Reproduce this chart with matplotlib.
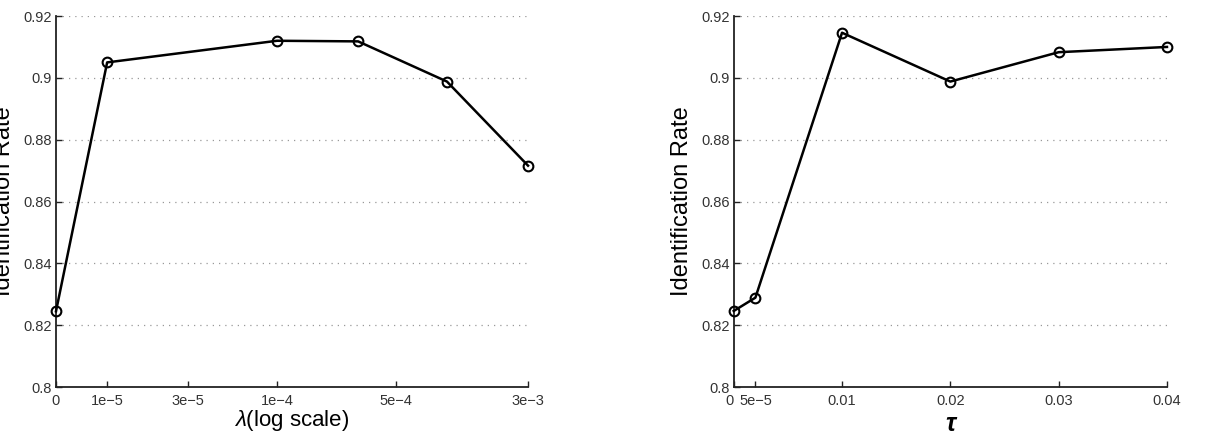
import matplotlib
matplotlib.use('Agg')
import matplotlib.pyplot as plt
import numpy as np

plt.rcParams['font.family'] = ['Liberation Sans', 'DejaVu Sans']
plt.rcParams['mathtext.fontset'] = 'custom'
plt.rcParams['mathtext.it'] = 'Liberation Sans:italic'

# left panel: lambda sweep (0 is drawn at 5e-6 on the log axis)
lam = [0, 1e-5, 1e-4, 3e-4, 1e-3, 3e-3]
lam_rate = [0.8245, 0.905, 0.912, 0.9118, 0.8988, 0.8716]
lam_ticks = [0, 1e-5, 3e-5, 1e-4, 5e-4, 3e-3]
lam_ticklabels = ['0', '1e\u22125', '3e\u22125', '1e\u22124', '5e\u22124', '3e\u22123']

# right panel: tau sweep (5e-5 is drawn at 0.002)
tau = [0, 5e-5, 0.01, 0.02, 0.03, 0.04]
tau_rate = [0.8246, 0.8289, 0.9146, 0.8988, 0.9083, 0.910]
tau_ticks = [0, 5e-5, 0.01, 0.02, 0.03, 0.04]
tau_ticklabels = ['0', '5e\u22125', '0.01', '0.02', '0.03', '0.04']

y_ticks = [0.8, 0.82, 0.84, 0.86, 0.88, 0.9, 0.92]


def lam_pos(v):
    return [5e-6 if x == 0 else x for x in v]


def tau_pos(v):
    return [0.002 if x == 5e-5 else x for x in v]


def style(ax):
    ax.spines['top'].set_visible(False)
    ax.spines['right'].set_visible(False)
    for s in ['left', 'bottom']:
        ax.spines[s].set_linewidth(1.3)
        ax.spines[s].set_color('#222222')
    ax.tick_params(direction='in', length=4, width=1.0, labelsize=10.5,
                   colors='#222222', labelcolor='#333333', pad=3)
    ax.tick_params(axis='x', pad=5)
    ax.tick_params(axis='x', which='minor', bottom=False)
    ax.set_ylim(0.8, 0.92)
    ax.set_yticks(y_ticks)
    ax.set_yticklabels(['%g' % t for t in y_ticks])
    ax.yaxis.grid(True, linestyle=(0, (1, 4)), color='#999999', linewidth=0.9)
    ax.set_axisbelow(True)


fig = plt.figure(figsize=(12.28, 4.38), dpi=100)

ax1 = fig.add_axes([0.0456, 0.1164, 0.3844, 0.847])
ax1.plot(lam_pos(lam), lam_rate, 'k-', marker='o', markerfacecolor='none',
         markeredgecolor='k', markersize=7, markeredgewidth=1.5, linewidth=1.8,
         clip_on=False, zorder=3)
ax1.set_xscale('log')
ax1.set_xlim(5e-6, 3e-3)
ax1.set_xticks(lam_pos(lam_ticks))
ax1.set_xticklabels(lam_ticklabels)
style(ax1)
ax1.set_xlabel(r'$\lambda$(log scale)', fontsize=16, labelpad=0)
ax1.set_ylabel('Identification Rate', fontsize=17, labelpad=6)

ax2 = fig.add_axes([0.5975, 0.1164, 0.3528, 0.847])
ax2.plot(tau_pos(tau), tau_rate, 'k-', marker='o', markerfacecolor='none',
         markeredgecolor='k', markersize=7, markeredgewidth=1.5, linewidth=1.8,
         clip_on=False, zorder=3)
ax2.set_xlim(0, 0.04)
ax2.set_xticks(tau_pos(tau_ticks))
ax2.set_xticklabels(tau_ticklabels)
style(ax2)
# nudge the "0" label left so it does not run into "5e-5"
lbl0 = ax2.get_xticklabels()[0]
lbl0.set_horizontalalignment('right')
lbl0.set_x(0)
ax2.set_xlabel('\u03c4', fontsize=18, fontstyle='italic', fontweight='bold',
               labelpad=3)
ax2.set_ylabel('Identification Rate', fontsize=17, labelpad=6)

plt.savefig('out.png', dpi=100)
